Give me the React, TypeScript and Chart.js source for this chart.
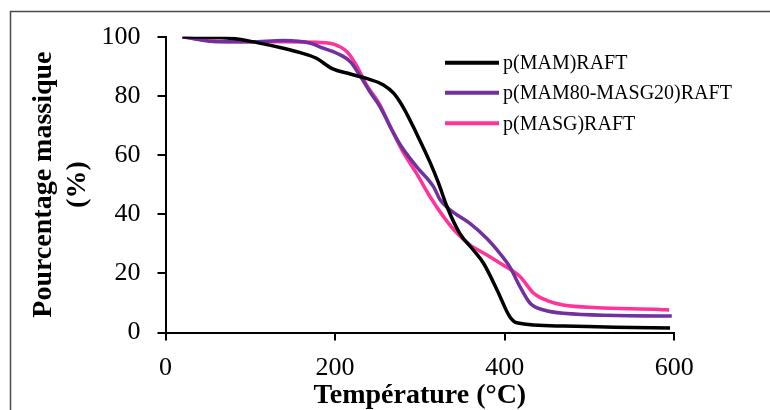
import React, { useEffect, useRef } from "react";
import { Chart, registerables } from "chart.js";

Chart.register(...registerables);

// ---- data ----
const seriesNames = ["p(MAM)RAFT", "p(MAM80-MASG20)RAFT", "p(MASG)RAFT"];
const seriesColors = ["#000000", "#7030A0", "#FF3399"];

const mamTemp = [20, 80, 108, 139, 159, 178, 196, 218, 237, 257, 269, 281, 296, 312, 322, 332, 347, 363, 375, 391, 406, 414, 469, 530, 595];
const mamMass = [100, 99.4, 98, 96.1, 94.6, 92.7, 89.3, 87.4, 85.9, 83.7, 80.9, 75.8, 67.3, 57.5, 50.5, 42.5, 33.5, 27.9, 23.4, 14.4, 5.3, 3.3, 2.2, 1.8, 1.5];

const mixTemp = [20, 61, 100, 139, 171, 186, 202, 218, 230, 241, 253, 265, 277, 296, 316, 324, 336, 359, 379, 391, 406, 418, 430, 446, 469, 583, 597];
const mixMass = [100, 98.3, 98.3, 98.7, 97.8, 96.1, 94.4, 91.5, 86.5, 81.4, 76.3, 69.6, 63.4, 56.1, 49.3, 44.8, 41.4, 36.9, 31.8, 27.9, 22.2, 15.5, 9.9, 7.6, 6.5, 5.6, 5.6];

const masgTemp = [20, 45, 80, 139, 178, 198, 214, 226, 237, 253, 265, 281, 296, 312, 328, 344, 359, 379, 398, 418, 434, 450, 469, 509, 583, 594];
const masgMass = [100, 98.9, 98.3, 98.3, 98.1, 97.5, 94.9, 89.9, 83.7, 76.9, 69.6, 60.6, 53.8, 45.9, 39.1, 33.5, 29.6, 26.2, 22.8, 18.9, 13.3, 10.8, 9.3, 8.4, 7.8, 7.6];

const xTickValues = [0, 200, 400, 600];
const yTickValues = [0, 20, 40, 60, 80, 100];
const xTitle = "Température (°C)";
const yTitle = ["Pourcentage massique", "(%)"];

const FONT = "'Liberation Serif', 'Times New Roman', serif";

const toPoints = (xs: number[], ys: number[]) => xs.map((x, i) => ({ x, y: ys[i] }));

const decorPlugin = {
  id: "decor",
  beforeDraw(chart: any) {
    const ctx = chart.ctx;
    ctx.save();
    ctx.fillStyle = "#ffffff";
    ctx.fillRect(0, 0, chart.width, chart.height);
    ctx.strokeStyle = "#4a4a4a";
    ctx.lineWidth = 1.5;
    ctx.strokeRect(10.5, 11.5, chart.width + 50, chart.height + 50);
    ctx.restore();
  },
  afterDraw(chart: any) {
    const ctx = chart.ctx;
    ctx.save();
    ctx.font = `20px ${FONT}`;
    ctx.textBaseline = "middle";
    ctx.textAlign = "left";
    const rows = [62.7, 92.7, 123.3];
    chart.data.datasets.forEach((ds: any, i: number) => {
      const y = rows[i];
      ctx.strokeStyle = ds.borderColor;
      ctx.lineWidth = 4;
      ctx.beginPath();
      ctx.moveTo(445, y);
      ctx.lineTo(499, y);
      ctx.stroke();
      ctx.fillStyle = "#000";
      ctx.fillText(ds.label, 503, y + 1);
    });
    ctx.restore();
  },
};

export default function App() {
  const ref = useRef<HTMLCanvasElement>(null);
  useEffect(() => {
    document.body.style.margin = "0";
    const datasets = [
      toPoints(mamTemp, mamMass),
      toPoints(mixTemp, mixMass),
      toPoints(masgTemp, masgMass),
    ].map((data, i) => ({
      label: seriesNames[i],
      data,
      borderColor: seriesColors[i],
      backgroundColor: seriesColors[i],
      borderWidth: 3.5,
      pointRadius: 0,
      showLine: true,
      cubicInterpolationMode: "monotone" as const,
      fill: false,
    }));
    const chart = new Chart(ref.current!, {
      type: "scatter",
      data: { datasets },
      plugins: [decorPlugin],
      options: {
        animation: false,
        responsive: false,
        devicePixelRatio: 1,
        layout: { padding: { left: 0, top: 36.7, right: 95.7, bottom: 0 } },
        plugins: { legend: { display: false }, tooltip: { enabled: false } },
        scales: {
          x: {
            type: "linear",
            min: 0,
            max: 600,
            afterBuildTicks: (scale: any) => {
              scale.ticks = xTickValues.map((v) => ({ value: v }));
            },
            afterFit: (scale: any) => {
              scale.height = 410 - 332.5;
            },
            ticks: {
              color: "#000",
              font: { family: FONT, size: 26 },
              padding: 12,
              autoSkip: false,
              maxRotation: 0,
            },
            grid: {
              display: true,
              drawOnChartArea: false,
              drawTicks: true,
              tickLength: 8,
              color: "#000",
              lineWidth: 2,
            },
            border: { display: true, color: "#000", width: 2 },
            title: {
              display: true,
              text: xTitle,
              color: "#000",
              font: { family: FONT, size: 28, weight: "bold", lineHeight: 1 },
              padding: { top: 0, bottom: 0 },
            },
          },
          y: {
            type: "linear",
            min: 0,
            max: 100,
            afterBuildTicks: (scale: any) => {
              scale.ticks = yTickValues.map((v) => ({ value: v }));
            },
            afterFit: (scale: any) => {
              scale.width = 165.5;
            },
            ticks: {
              color: "#000",
              font: { family: FONT, size: 26 },
              padding: 17,
              autoSkip: false,
            },
            grid: {
              display: true,
              drawOnChartArea: false,
              drawTicks: true,
              tickLength: 8,
              color: "#000",
              lineWidth: 2,
            },
            border: { display: true, color: "#000", width: 2 },
            title: {
              display: true,
              text: yTitle,
              color: "#000",
              font: { family: FONT, size: 28, weight: "bold", lineHeight: 1.2 },
              padding: { top: 27, bottom: 0 },
            },
          },
        },
      },
    });
    return () => chart.destroy();
  }, []);
  return (
    <div style={{ width: 770, height: 410 }}>
      <canvas ref={ref} width={770} height={410} style={{ display: "block" }} />
    </div>
  );
}
